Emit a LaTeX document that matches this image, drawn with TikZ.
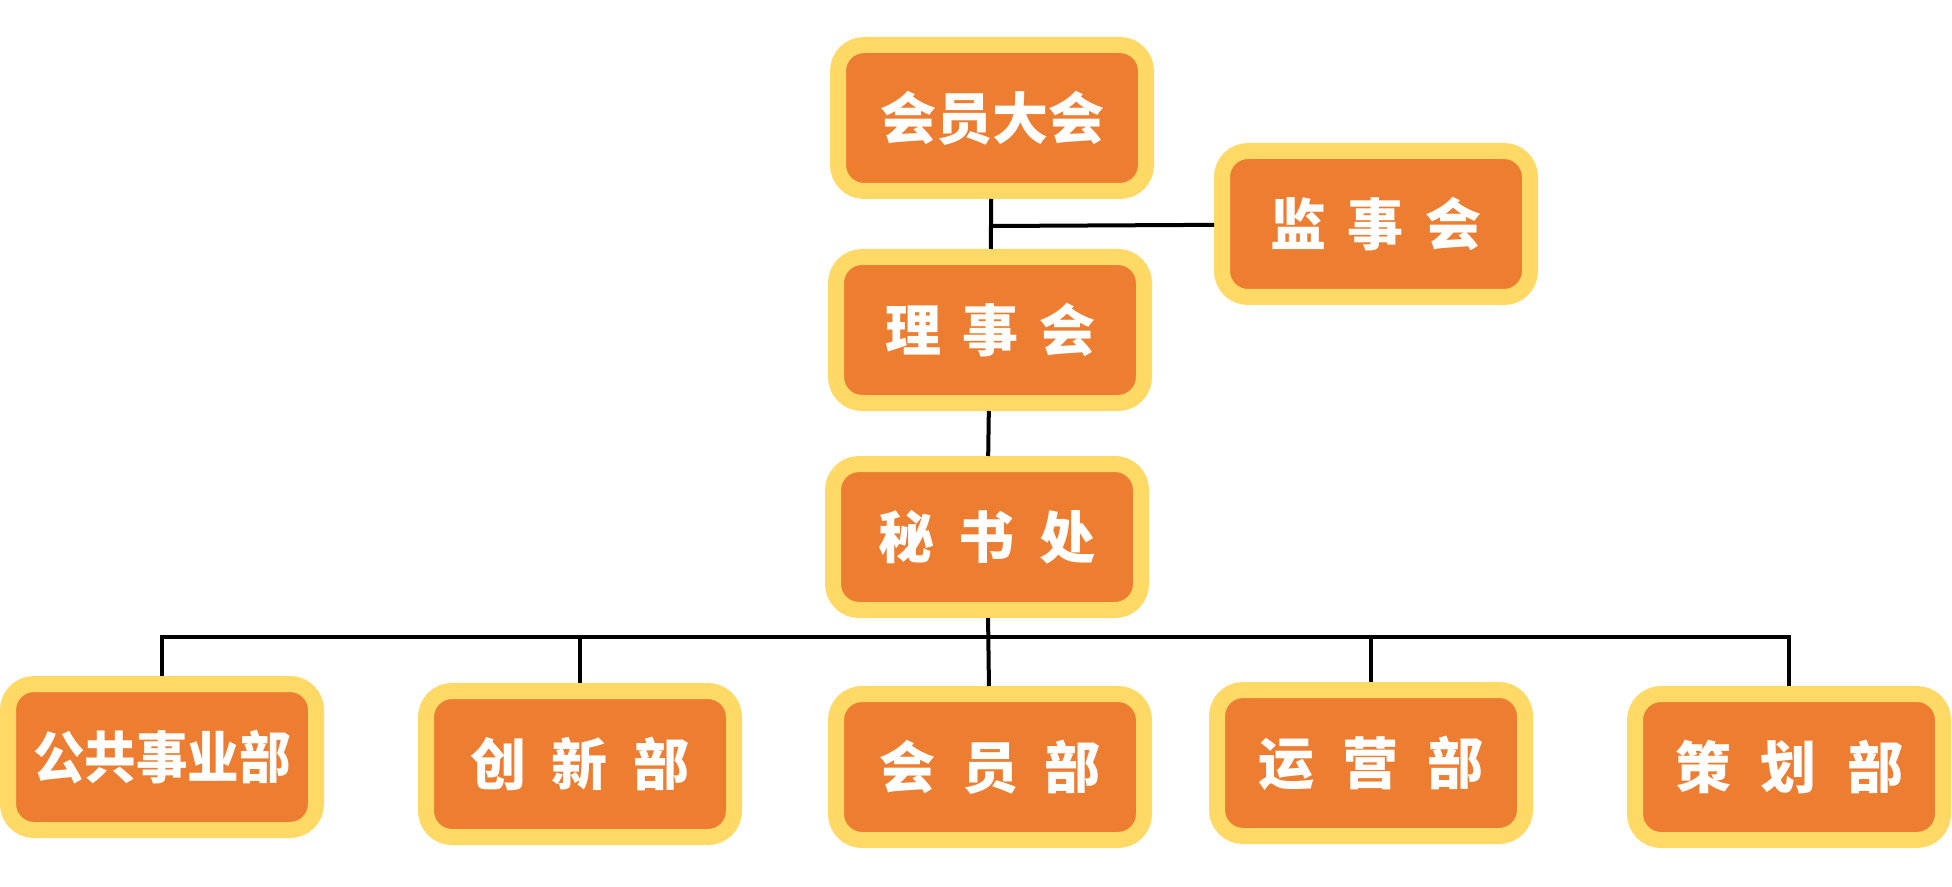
\documentclass[tikz,border=0pt]{standalone}
\usepackage{fontspec}
\usepackage{graphicx}
\newfontfamily\cjk{Noto Sans CJK SC}
\definecolor{boxorange}{HTML}{ED7D31}
\definecolor{boxyellow}{HTML}{FFD966}
\newcommand{\spread}[4]{#2\hspace{#1}#3\hspace{#1}#4}

\begin{document}
\begin{tikzpicture}
[x=0.5pt, y=-0.5pt, every node/.style={font=\cjk\bfseries\fontsize{28pt}{30pt}\selectfont, text=white},
 post/.style={fill=boxorange, draw=boxyellow, line width=8pt, rounded corners=13pt, minimum width=154pt, minimum height=73pt, inner sep=0pt}]
\useasboundingbox (0,0) rectangle (1952,887);
\node (1) at (992,118) [post] {会员大会};
\node (2) at (1376,224) [post] {\spread{11pt}{监}{事}{会}};
\node (3) at (990,330) [post] {\spread{10.5pt}{理}{事}{会}};
\node (4) at (987,537) [post] {\spread{12.5pt}{秘}{书}{处}};
\node (5) at (162,757) [post] {\scalebox{0.92}[1]{公共事业部}};
\node (6) at (580,764) [post] {\spread{13pt}{创}{新}{部}};
\node (7) at (990,767) [post] {\spread{13.5pt}{会}{员}{部}};
\node (8) at (1371,763) [post] {\spread{14.5pt}{运}{营}{部}};
\node (9) at (1789,767) [post] {\spread{15pt}{策}{划}{部}};
\coordinate (j) at (992,226);
\coordinate (bus) at (0,637);
\draw [line width=2pt] (1) -- (3);
\draw [line width=2pt] (j) -- (2);
\draw [line width=2pt] (3) -- (4);
\draw [line width=2pt] (4) -- (7);
\draw [line width=2pt, line cap=rect] (5 |- bus) -- (9 |- bus);
\draw [line width=2pt] (5 |- bus) -- (5);
\draw [line width=2pt] (6 |- bus) -- (6);
\draw [line width=2pt] (8 |- bus) -- (8);
\draw [line width=2pt] (9 |- bus) -- (9);
\end{tikzpicture}
\end{document}
